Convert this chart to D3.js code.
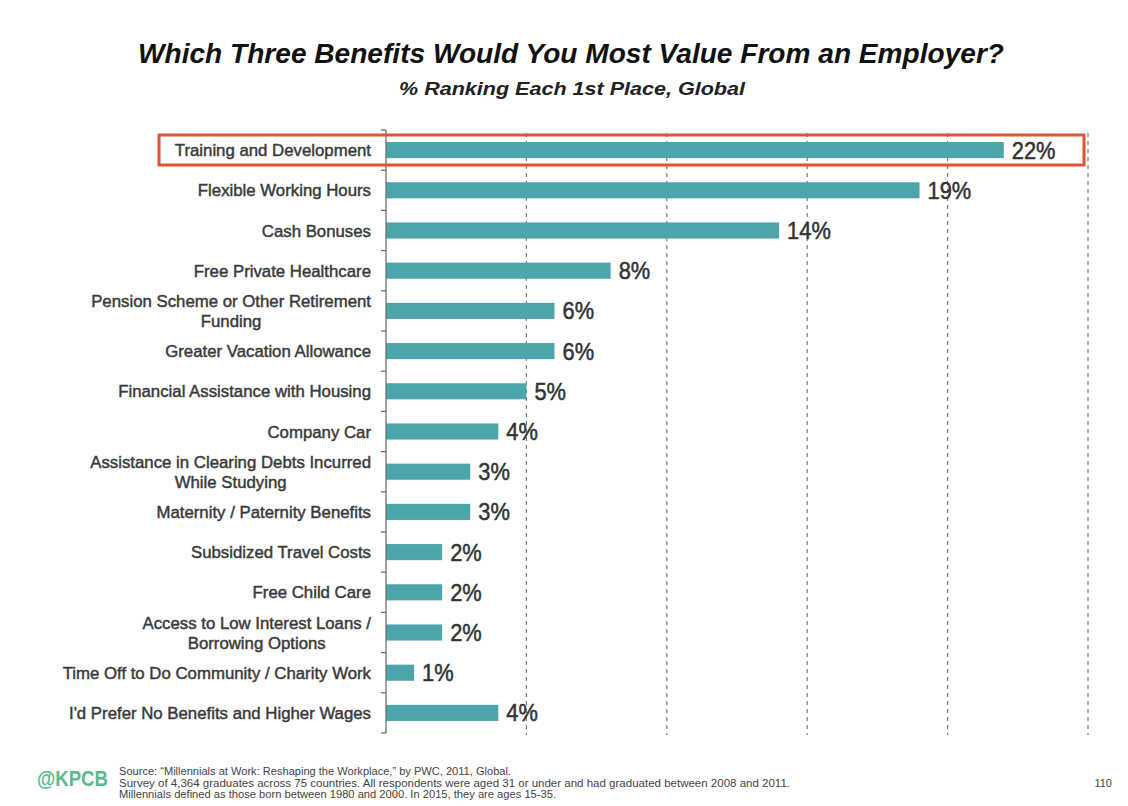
<!DOCTYPE html>
<html><head><meta charset="utf-8">
<script src="https://cdn.jsdelivr.net/npm/d3@7"></script>
<style>
body{margin:0;background:#fff;}
svg{display:block;}
</style></head>
<body>
<script>
const categories = [
  ["Training and Development"],
  ["Flexible Working Hours"],
  ["Cash Bonuses"],
  ["Free Private Healthcare"],
  ["Pension Scheme or Other Retirement","Funding"],
  ["Greater Vacation Allowance"],
  ["Financial Assistance with Housing"],
  ["Company Car"],
  ["Assistance in Clearing Debts Incurred","While Studying"],
  ["Maternity / Paternity Benefits"],
  ["Subsidized Travel Costs"],
  ["Free Child Care"],
  ["Access to Low Interest Loans /","Borrowing Options"],
  ["Time Off to Do Community / Charity Work"],
  ["I'd Prefer No Benefits and Higher Wages"]
];
const values = [22,19,14,8,6,6,5,4,3,3,2,2,2,1,4];
const gridTicks = [5,10,15,20,25];
const title = "Which Three Benefits Would You Most Value From an Employer?";
const subtitle = "% Ranking Each 1st Place, Global";
const sourceLines = [
  "Source: \u201cMillennials at Work: Reshaping the Workplace,\u201d by PWC, 2011, Global.",
  "Survey of 4,364 graduates across 75 countries. All respondents were aged 31 or under and had graduated between 2008 and 2011.",
  "Millennials defined as those born between 1980 and 2000. In 2015, they are ages 15-35."
];
const sourceWidths = [392, 671, 437];

const W = 1128, H = 806;
const sans = "'Liberation Sans',Arial,sans-serif";
const svg = d3.select("body").append("svg").attr("width", W).attr("height", H);

svg.append("text").attr("x", 571).attr("y", 63).attr("text-anchor","middle")
  .style("font-family", sans).style("font-weight","bold").style("font-style","italic")
  .style("font-size","27px").attr("fill","#111").attr("textLength", 866).attr("lengthAdjust","spacingAndGlyphs")
  .text(title);
svg.append("text").attr("x", 572).attr("y", 95).attr("text-anchor","middle")
  .style("font-family", sans).style("font-weight","bold").style("font-style","italic")
  .style("font-size","19px").attr("fill","#222").attr("textLength", 346).attr("lengthAdjust","spacingAndGlyphs")
  .text(subtitle);

const x0 = 386;
const x = d3.scaleLinear().domain([0,25]).range([x0, x0 + 702]);
const y = d3.scaleBand().domain(d3.range(values.length)).range([130, 733]).paddingInner(0.6).paddingOuter(0.3);

// gridlines
svg.append("g").selectAll("line").data(gridTicks).join("line")
  .attr("x1", d => x(d)).attr("x2", d => x(d))
  .attr("y1", 133).attr("y2", 735)
  .attr("stroke","#7a7a7a").attr("stroke-width",1.2).attr("stroke-dasharray","4,4");

// bars
svg.append("g").selectAll("rect").data(values).join("rect")
  .attr("x", x(0)).attr("y", (d,i) => y(i))
  .attr("width", d => x(d) - x(0)).attr("height", y.bandwidth())
  .attr("fill","#4BA5AB");

// axis
svg.append("line").attr("x1", x0).attr("x2", x0).attr("y1", 130).attr("y2", 733)
  .attr("stroke","#666").attr("stroke-width",1.2);
svg.append("g").selectAll("line").data(d3.range(values.length + 1)).join("line")
  .attr("x1", x0 - 5).attr("x2", x0)
  .attr("y1", i => 130 + i * (603 / values.length)).attr("y2", i => 130 + i * (603 / values.length))
  .attr("stroke","#666").attr("stroke-width",1.2);

// category labels
const labG = svg.append("g");
categories.forEach((d, i) => {
  const cy = y(i) + y.bandwidth()/2;
  const t = labG.append("text").attr("text-anchor","end")
    .style("font-family", sans).style("font-size","16.8px")
    .attr("fill","#3a3a3a").attr("stroke","#3a3a3a").attr("stroke-width",0.45);
  const top = cy + 6 - (d.length - 1) * 10;
  const spans = d.map((line, k) => t.append("tspan").attr("x", 371).attr("y", top + k * 20).text(line));
  if (d.length > 1) {
    const w0 = spans[0].node().getComputedTextLength();
    const w1 = spans[1].node().getComputedTextLength();
    spans[1].attr("x", 371 - (w0 - w1) / 2);
  }
});

// value labels
const valG = svg.append("g");
values.forEach((d, i) => {
  valG.append("g").attr("transform", `translate(${x(d) + 8},${y(i) + y.bandwidth()/2 + 8.5}) scale(0.95,1)`)
    .append("text").style("font-family", sans).style("font-size","23px")
    .attr("fill","#333").attr("stroke","#333").attr("stroke-width",0.5)
    .text(d + "%");
});

// highlight box
svg.append("rect").attr("x", 159).attr("y", 135).attr("width", 925).attr("height", 30)
  .attr("fill","none").attr("stroke","#E4532F").attr("stroke-width",3);

// footer
svg.append("text").attr("x", 37).attr("y", 786)
  .style("font-family", sans).style("font-weight","bold").style("font-size","22px")
  .attr("fill","#5DB88A").attr("textLength", 71).attr("lengthAdjust","spacingAndGlyphs").text("@KPCB");
svg.append("g").selectAll("text").data(sourceLines).join("text")
  .attr("x", 119).attr("y", (d,i) => 775 + i * 11.5)
  .attr("textLength", (d,i) => sourceWidths[i]).attr("lengthAdjust","spacingAndGlyphs")
  .style("font-family", sans).style("font-size","10px").attr("fill","#444").text(d => d);
svg.append("text").attr("x", 1112).attr("y", 787).attr("text-anchor","end")
  .style("font-family", sans).style("font-size","11px").attr("fill","#444").text("110");
</script>
</body></html>
